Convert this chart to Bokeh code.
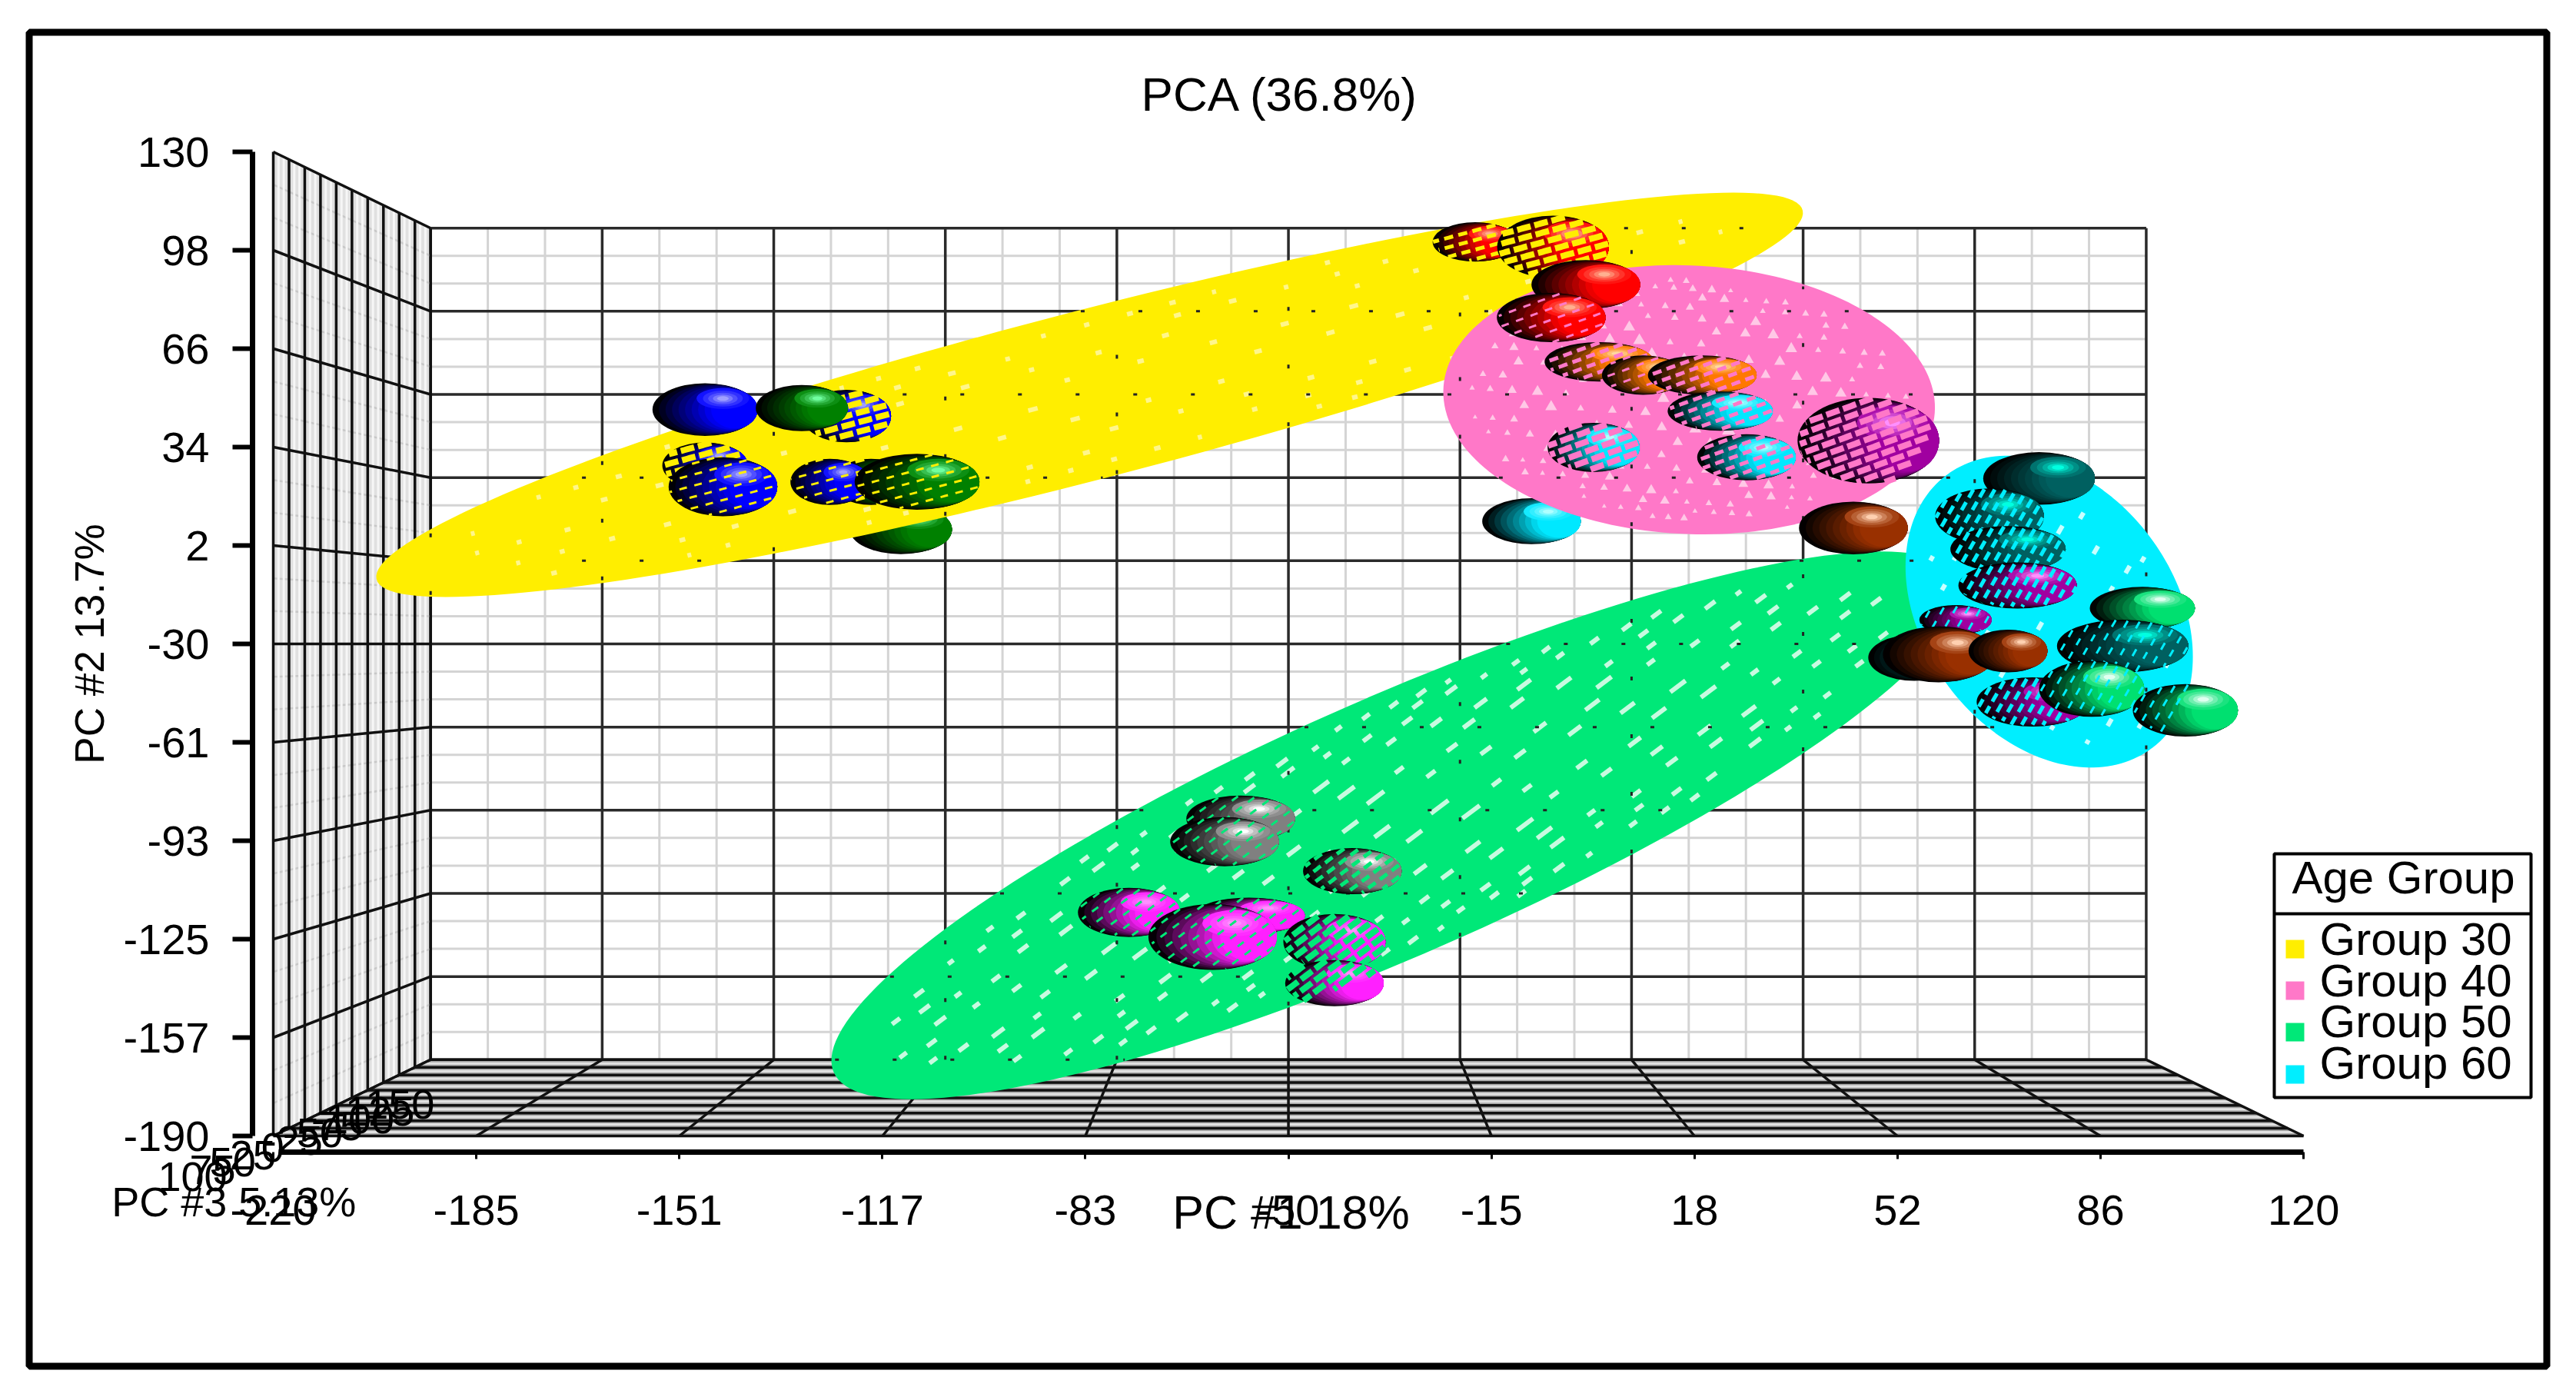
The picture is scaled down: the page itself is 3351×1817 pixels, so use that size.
import numpy as np
from bokeh.plotting import figure
from bokeh.embed import file_html
from bokeh.resources import INLINE
from bokeh.core.properties import value
from bokeh.models import (Range1d, LinearAxis, FixedTicker, PolyAnnotation, Label, ColumnDataSource)

# ---------- axes ----------
pc1_ticks = [-220, -186, -152, -118, -84, -50, -16, 18, 52, 86, 120]
pc1_labels = ["-220", "-185", "-151", "-117", "-83", "-50", "-15", "18", "52", "86", "120"]
pc2_ticks = [130, 98, 66, 34, 2, -30, -62, -94, -126, -158, -190]
pc2_labels = ["130", "98", "66", "34", "2", "-30", "-61", "-93", "-125", "-157", "-190"]
pc3_ticks = [100, 75, 50, 25, 0, -25, -50, -75, -100, -125, -150]
pc3_labels = ["100", "75", "50", "25", "0", "-25", "-50", "-75", "-100", "-125", "-150"]

# ---------- confidence ellipsoids: centre, two semi-axis vectors (PC units) ----------
group_names = ["Group 30", "Group 40", "Group 50", "Group 60"]
ell_pc1 = [-83.3, 17.1, -31.9, 77.4]
ell_pc2 = [51.0, 49.4, -89.0, -19.5]
ell_u1 = [119.3, 41.0, 94.4, 10.5]
ell_u2 = [59.8, -4.3, 78.5, -49.8]
ell_v1 = [2.8, -1.7, 4.5, 21.5]
ell_v2 = [-26.7, -43.3, -41.5, 8.0]

# ---------- samples ----------
s_name = ["B1","B3","B2","B4","G1","G3","B5","G2","R1","R2","R3","R4","O1","O3","O2","C1","C2","C3",
          "P1","BR1","T5","T1","T2","T3","P2","P3","P4","GB1","T4","GB2","GB3","BR2","BR3",
          "Gy1","Gy2","Gy3","M1","M3","M2","M4","M5"]
s_pc1 = [-147.7,-147.7,-144.7,-124.0,-131.5,-119.9,-126.8,-112.2,-18.7,-5.7,-0.2,-6.0,2.0,9.4,19.3,22.3,1.1,26.7,
         47.1,44.6,54.8,75.7,67.4,70.5,72.1,61.7,74.6,93.0,89.7,84.5,100.2,58.9,70.5,
         -58.0,-60.7,-39.3,-76.7,-56.6,-62.7,-42.3,-42.3]
s_pc2 = [46.2,28.0,21.1,44.1,46.7,22.7,22.7,22.7,100.7,99.1,86.8,76.1,61.7,57.4,57.4,45.7,33.9,30.7,
         36.1,7.7,-34.5,23.8,11.5,0.8,-11.0,-22.2,-48.9,-18.4,-30.7,-44.6,-51.6,-33.4,-32.3,
         -86.8,-94.3,-103.9,-117.3,-118.4,-125.3,-126.9,-140.3]
s_w = [17.6,14.3,18.2,14.9,15.4,13.2,13.2,20.9,14.3,18.7,18.2,18.2,18.2,13.8,18.2,17.6,15.4,16.5,
       23.7,18.2,15.4,18.7,18.2,19.3,19.8,12.1,18.7,17.6,22.0,17.6,17.6,18.7,13.2,
       18.2,18.2,16.5,17.1,18.7,21.5,17.1,16.5]
s_h = [17.1,15.0,19.2,17.1,15.0,15.0,15.0,18.2,12.8,20.3,16.0,16.0,12.8,12.8,12.8,12.8,16.0,15.0,
       27.8,17.1,15.0,17.1,18.2,15.0,15.0,9.6,16.0,13.9,17.1,18.2,17.1,18.2,13.9,
       15.0,16.0,15.0,16.0,11.8,21.4,18.2,15.0]
s_shell = [-1,0,0,0,0,0,0,0,0,0,-1,1,1,1,1,1,1,1,
           1,-1,3,-1,3,3,3,3,3,-1,3,3,3,-1,-1,
           2,2,2,2,2,2,2,2]
s_veil = [0,3,1,3,0,2,1,1,2,3,0,1,2,1,2,2,3,2,
          3,0,1,0,2,2,2,1,2,0,1,1,1,0,0,
          1,1,2,1,1,1,3,3]
back_name = ["G4", "C4"]
back_pc1 = [-114.9, -9.3]
back_pc2 = [7.2, 9.9]
back_w = [17.1, 16.5]
back_h = [16.0, 15.0]

# ---------- styling ----------
ell_colors = ["#FFEE00", "#FF78C8", "#00E878", "#00EEFF"]
ell_speck = ["#FFF68C", "#FFC8E6", "#C8FAE0", "#C8FFFF"]
ell_slope = [(-0.966, 0.26), (-0.94, 0.34), (-0.80, 0.60), (-0.5, 0.87)]
ell_lat = [(11, 50, 0.30), (23, 38, 0.5), (19, 52, 0.8), (12, 18, 0.35)]
sph_col = {"B": ("#0000FF", "#A0A0FF"), "G": ("#008000", "#70FFA0"), "R": ("#FF0000", "#FFB090"),
           "O": ("#FF7800", "#FFD8A0"), "C": ("#00E8FF", "#B0FFFF"), "P": ("#A000A0", "#FF90FF"),
           "BR": ("#993000", "#FFD0B0"), "T": ("#006060", "#00FFE0"), "GB": ("#00E070", "#E0FFF0"),
           "Gy": ("#808080", "#FFFFFF"), "M": ("#FF20FF", "#FF90FF")}
VEIL = {1: (3, 14, "10 10"), 2: (5, 12, "12 7"), 3: (8, 12, "18 5")}
FONT = "Liberation Sans"

SX, SY = 7.768, 4.0          # screen pixels per data unit on the front plane
PX = lambda px: -220 + (px - 355) / SX
PY = lambda py: 130 - (py - 197) / SY

p = figure(width=3335, height=1801, output_backend="svg", toolbar_location=None,
           x_range=Range1d(PX(0), PX(3335)), y_range=Range1d(PY(1801), PY(0)),
           x_axis_location=None, y_axis_location=None,
           min_border_left=0, min_border_right=0, min_border_bottom=0, min_border_top=0)
p.grid.visible = False
p.outline_line_color = None
p.background_fill_color = "white"

def proj(x, y, z=100):
    d = (100 - np.asarray(z, float)) / 250.0
    f = 1 - 0.155 * d
    return -50 + (np.asarray(x, float) + 50) * f, -30 + (np.asarray(y, float) + 30) * f

def subs(t, n=3):
    out = []
    for a, b in zip(t[:-1], t[1:]):
        out += [a + (b - a) * k / n for k in range(1, n)]
    return out

def lines(segs, **kw):
    p.multi_line([list(s[0]) for s in segs], [list(s[1]) for s in segs], **kw)

def seg3(a, b):
    x0, y0 = proj(*a)
    x1, y1 = proj(*b)
    return ([float(x0), float(x1)], [float(y0), float(y1)])

xa, xb = pc1_ticks[0], pc1_ticks[-1]
ya, yb = pc2_ticks[-1], pc2_ticks[0]
za, zb = pc3_ticks[0], pc3_ticks[-1]
minor, major = dict(line_color="#D4D4D4", line_width=3), dict(line_color="#2A2A2A", line_width=3.5)

# left wall and floor fills
lx, ly = zip(*[tuple(map(float, proj(xa, y, z))) for y, z in [(ya, za), (yb, za), (yb, zb), (ya, zb)]])
p.patch(list(lx), list(ly), fill_color="#E0E0E0", line_color=None)
fx, fy = zip(*[tuple(map(float, proj(x, ya, z))) for x, z in [(xa, za), (xb, za), (xb, zb), (xa, zb)]])
p.patch(list(fx), list(fy), fill_color="#A8A8A8", line_color=None)

# back wall
lines([seg3((x, ya, zb), (x, yb, zb)) for x in subs(pc1_ticks)], **minor)
lines([seg3((xa, y, zb), (xb, y, zb)) for y in subs(pc2_ticks)], **minor)
lines([seg3((x, ya, zb), (x, yb, zb)) for x in pc1_ticks], **major)
lines([seg3((xa, y, zb), (xb, y, zb)) for y in pc2_ticks], **major)
# left wall
lines([seg3((xa, y, za), (xa, y, zb)) for y in subs(pc2_ticks)], line_color="#C8C8C8", line_width=2.5)
lines([seg3((xa, ya, z), (xa, yb, z)) for z in subs(pc3_ticks)], line_color="#F6F6F6", line_width=3)
lines([seg3((xa, ya, z), (xa, yb, z)) for z in pc3_ticks], line_color="#111111", line_width=3.5)
lines([seg3((xa, y, za), (xa, y, zb)) for y in pc2_ticks], line_color="#111111", line_width=3.5)
# floor
lines([seg3((xa, ya, z), (xb, ya, z)) for z in subs(pc3_ticks, 2)], line_color="#E2E2E2", line_width=3)
lines([seg3((xa, ya, z), (xb, ya, z)) for z in pc3_ticks], line_color="#111111", line_width=3.5)
lines([seg3((x, ya, za), (x, ya, zb)) for x in pc1_ticks], line_color="#111111", line_width=3.5)

# ---------- helpers for spheres / ellipsoids ----------
def sphere(name, x, y, w, h):
    key = name.rstrip("0123456789")
    base, hi = sph_col[key]
    rgb = np.array([int(base[i:i + 2], 16) for i in (1, 3, 5)], float)
    rgbh = np.array([int(hi[i:i + 2], 16) for i in (1, 3, 5)], float)
    n = 11
    xs, ys, ws, hs, cs = [], [], [], [], []
    for i in range(n):
        r = 1 - 0.62 * i / (n - 1)
        t = i / (n - 1)
        c = rgb * (0.02 + 0.98 * min(1.0, t * 1.15))
        xs.append(x + (1 - r) * w / 2); ys.append(y)
        ws.append(w * r); hs.append(h * r ** 0.4); cs.append("#%02x%02x%02x" % tuple(int(v) for v in c))
    for r, t in [(0.50, 0.12), (0.38, 0.3), (0.28, 0.5), (0.19, 0.75), (0.11, 1.0)]:
        c = rgb + (rgbh - rgb) * t
        xs.append(x + 0.34 * w / 2); ys.append(y + 0.42 * h / 2)
        ws.append(w * r); hs.append(h * r * 0.8); cs.append("#%02x%02x%02x" % tuple(int(v) for v in c))
    p.ellipse(xs, ys, width=ws, height=hs, fill_color=cs, line_color=None)

def in_ell(i, x, y):
    ux, uy, vx, vy = ell_u1[i], ell_u2[i], ell_v1[i], ell_v2[i]
    det = ux * vy - uy * vx
    dx, dy = x - ell_pc1[i], y - ell_pc2[i]
    a = (dx * vy - dy * vx) / det
    b = (ux * dy - uy * dx) / det
    return a * a + b * b <= 1

def runs(x, y, mask):
    segs, start = [], None
    for k, m in enumerate(list(mask) + [False]):
        if m and start is None:
            start = k
        if not m and start is not None:
            if k - start > 1:
                segs.append((x[start:k].tolist(), y[start:k].tolist()))
            start = None
    return segs

def veil(shell, level, x, y, w, h):
    lw, gap, dash = VEIL[level]
    dx, dy = ell_slope[shell]
    nx, ny = -dy, dx
    R = max(w * SX, h * SY) / 2 + 2
    segs = []
    for off in np.arange(-R, R + gap, gap):
        t = np.arange(-R, R, 3.0) + (off * 1.7) % 13
        px_ = nx * off + dx * t
        py_ = ny * off + dy * t
        X = x + px_ / SX
        Y = y - py_ / SY
        m = ((X - x) / (w / 2)) ** 2 + ((Y - y) / (h / 2)) ** 2 <= 1
        m &= in_ell(shell, X, Y)
        segs += runs(X, Y, m)
    if segs:
        lines(segs, line_color=ell_colors[shell], line_width=lw, line_dash=dash)

# spheres that sit behind the ellipsoids
for n_, x_, y_, w_, h_ in zip(back_name, back_pc1, back_pc2, back_w, back_h):
    sphere(n_, x_, y_, w_, h_)

# ellipsoids
theta = np.linspace(0, 2 * np.pi, 181)
for i in [0, 2, 1, 3]:
    ex = ell_pc1[i] + ell_u1[i] * np.cos(theta) + ell_v1[i] * np.sin(theta)
    ey = ell_pc2[i] + ell_u2[i] * np.cos(theta) + ell_v2[i] * np.sin(theta)
    p.patch(ex.tolist(), ey.tolist(), fill_color=ell_colors[i], line_color=ell_colors[i], line_width=2)
    # holes of the wire mesh
    nlat, nlon, ln = ell_lat[i]
    segs, tx, ty, ts = [], [], [], []
    dx, dy = ell_slope[i]
    for a, lat in enumerate(np.linspace(-1.2, 1.2, nlat)):
        for b, lon in enumerate(np.linspace(-1.3, 1.3, nlon)):
            if (a + b) % 2 or (a * 3 + b * 5) % 7 in (0, 3):
                continue
            X, Y = np.sin(lon) * np.cos(lat), np.sin(lat)
            if X * X + Y * Y > 0.8:
                continue
            cx = ell_pc1[i] + ell_u1[i] * X + ell_v1[i] * Y
            cy = ell_pc2[i] + ell_u2[i] * X + ell_v2[i] * Y
            shade = np.sqrt(1 - X * X - Y * Y)
            var = 0.45 + 0.55 * ((a * 7 + b * 3) % 5) / 4
            if i == 1:
                tx.append(cx); ty.append(cy); ts.append(3 + 15 * shade * var)
            else:
                L = 16 * ln * shade * var + 1.5
                segs.append(([cx - dx * L / SX, cx + dx * L / SX], [cy + dy * L / SY, cy - dy * L / SY]))
    if i == 1:
        p.scatter(tx, ty, size=ts, marker="triangle", fill_color=ell_speck[i], line_color=None)
    else:
        lines(segs, line_color=ell_speck[i], line_width=6)
    # back-wall grid showing through as dark specks
    gsegs = []
    for yy in pc2_ticks:
        X = np.linspace(-190, 100, 400)
        xx, yyy = proj(X, np.full_like(X, yy), zb)
        gsegs += runs(xx, yyy, in_ell(i, xx, yyy))
    for xg in pc1_ticks:
        Y = np.linspace(-190, 130, 400)
        xx, yyy = proj(np.full_like(Y, xg), Y, zb)
        gsegs += runs(xx, yyy, in_ell(i, xx, yyy))
    if gsegs:
        lines(gsegs, line_color="#222222", line_width=3, line_dash="5 70")

# spheres on or in front of the ellipsoids
for n_, x_, y_, w_, h_, sh, ve in zip(s_name, s_pc1, s_pc2, s_w, s_h, s_shell, s_veil):
    sphere(n_, x_, y_, w_, h_)
    if sh >= 0 and ve > 0:
        veil(sh, ve, x_, y_, w_, h_)

# ---------- axes ----------
def style_axis(ax, ticks, labels):
    ax.ticker = FixedTicker(ticks=ticks)
    ax.major_label_overrides = dict(zip(ticks, labels))
    ax.minor_tick_line_color = None
    ax.major_label_text_font = FONT
    ax.major_label_text_font_size = "56px"
    ax.major_label_text_color = "black"
    ax.axis_label_text_font = FONT
    ax.axis_label_text_font_style = "normal"
    ax.axis_label_text_color = "black"
    ax.axis_line_color = "black"
    ax.major_tick_line_color = "black"

xaxis = LinearAxis(fixed_location=PY(1498), bounds=(PX(362), xb), axis_label="PC #1 18%")
style_axis(xaxis, pc1_ticks, pc1_labels)
xaxis.axis_line_width = 7
xaxis.major_tick_line_width = 3
xaxis.major_tick_out = 9
xaxis.major_tick_in = 0
xaxis.major_label_standoff = 47
xaxis.axis_label_text_font_size = "61px"
xaxis.axis_label_standoff = -53
p.add_layout(xaxis, "below")

yaxis = LinearAxis(fixed_location=PX(328), bounds=(ya, yb), axis_label="PC #2 13.7%")
style_axis(yaxis, pc2_ticks, pc2_labels)
yaxis.axis_line_width = 7
yaxis.major_tick_line_width = 6
yaxis.major_tick_out = 26
yaxis.major_tick_in = 0
yaxis.major_label_standoff = 30
yaxis.axis_label_text_font_size = "53px"
yaxis.axis_label_standoff = 11
p.add_layout(yaxis, "left")

# PC #3 labels run along the lower-left edge of the floor
zx, zy = proj(np.full(len(pc3_ticks), xa), np.full(len(pc3_ticks), ya), np.array(pc3_ticks))
depth = (100 - np.array(pc3_ticks, float)) / 250.0
zsrc = ColumnDataSource(dict(x=zx.tolist(), y=zy.tolist(), t=pc3_labels,
                             xo=(-105 + 56 * depth).tolist(), yo=(53 + 5 * depth).tolist()))
p.text("x", "y", text="t", source=zsrc, x_offset="xo", y_offset="yo", text_align="center",
       text_baseline="middle", text_font=value(FONT), text_font_size="54px", text_color="black")
p.add_layout(Label(x=-226.6, y=-211.3, text="PC #3 5.13%", text_align="center", text_baseline="middle",
                   text_font=FONT, text_font_size="54px", text_color="black"))

# ---------- title ----------
p.add_layout(Label(x=PX(1665), y=PY(122), text="PCA (36.8%)", text_align="center", text_baseline="middle",
                   text_font=FONT, text_font_size="62px", text_color="black"))

# ---------- legend box (rows are tighter than Bokeh's Legend allows) ----------
p.quad(left=[PX(2958)], right=[PX(3292)], top=[PY(1110)], bottom=[PY(1427)],
       fill_color="white", line_color="black", line_width=4)
p.line([PX(2958), PX(3292)], [PY(1188), PY(1188)], line_color="black", line_width=4)
row_text = [1221, 1275, 1328, 1382]
row_sq = [1234, 1288, 1342, 1397]
p.quad(left=[PX(2973)] * 4, right=[PX(2997)] * 4, top=[PY(v - 12) for v in row_sq], bottom=[PY(v + 12) for v in row_sq],
       fill_color=ell_colors, line_color=None)
p.text([PX(3017)] * 4, [PY(v) for v in row_text], text=group_names, text_align="left", text_baseline="middle",
       text_font=value(FONT), text_font_size="60px", text_color="black")
p.text([PX(3126)], [PY(1141)], text=["Age Group"], text_align="center", text_baseline="middle",
       text_font=value(FONT), text_font_size="60px", text_color="black")

# ---------- outer frame (screen y of this annotation counts up from the bottom edge) ----------
p.add_layout(PolyAnnotation(xs=[37.5, 3312.5, 3312.5, 37.5], ys=[1759.5, 1759.5, 24.5, 24.5],
                            xs_units="screen", ys_units="screen", fill_alpha=0,
                            line_color="black", line_width=9, line_alpha=1))

open("out.html", "w").write(file_html(p, INLINE))
